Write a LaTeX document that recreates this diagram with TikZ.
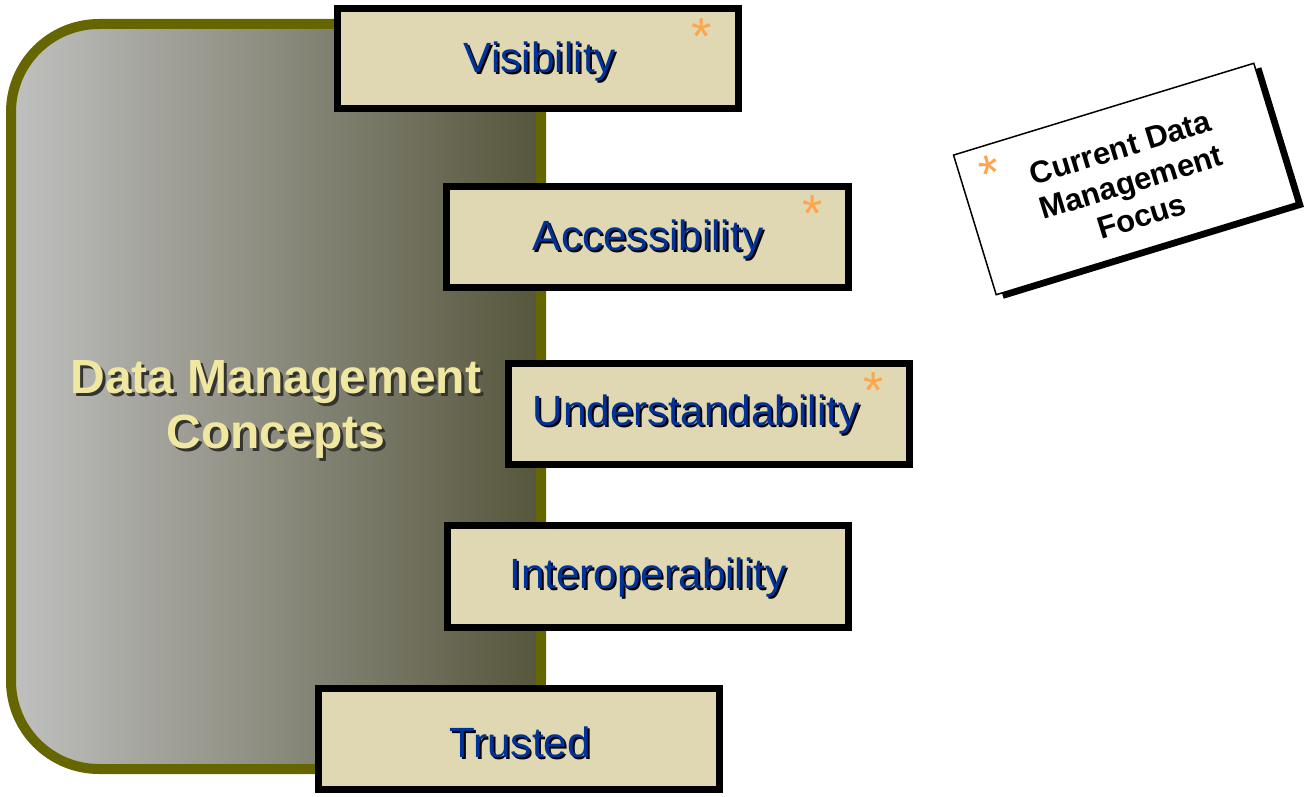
\documentclass[tikz,border=0pt]{standalone}
\usepackage{fontspec}
\setmainfont{Liberation Sans}
\definecolor{olivebd}{HTML}{666600}
\definecolor{gleft}{HTML}{C0C0C0}
\definecolor{gmid}{HTML}{A4A49C}
\definecolor{gright}{HTML}{56563C}
\definecolor{beige}{HTML}{E0D7B3}
\definecolor{navy}{HTML}{003399}
\definecolor{paleyellow}{HTML}{F0E8A0}
\definecolor{star}{HTML}{FFA64D}
\tikzset{
  conceptbox/.style={draw=black, line width=7pt, fill=beige},
  lbl/.style={font=\fontsize{42.3}{50}\selectfont, text=navy, inner sep=0pt},
  lblshadow/.style={font=\fontsize{42.3}{50}\selectfont, text=black, inner sep=0pt},
  starmark/.style={font=\fontsize{52}{60}\selectfont, text=star, inner sep=0pt, anchor=north},
  titletext/.style={font=\fontsize{48}{55}\selectfont\bfseries, align=center, inner sep=0pt},
}
\begin{document}
\begin{tikzpicture}[x=1pt,y=-1pt]
\useasboundingbox (0,0) rectangle (1304,797);
% big rounded panel
\shade[left color=gleft, middle color=gmid, right color=gright, rounded corners=88pt]
  (11,24) rectangle (541,769);
\draw[olivebd, line width=10pt, rounded corners=88pt] (11,24) rectangle (541,769);
\node[titletext, text=black!80] (titleshadow) at (279,412) {Data Management\\Concepts};
\node[titletext, text=paleyellow] (title) at (276,409) {Data Management\\Concepts};

% concept boxes
\draw[conceptbox] (337.5,8.5) rectangle (738.5,108.5);
\node[lblshadow] (visS) at (542,64) {Visibility};
\node[lbl] (vis) at (540,62) {Visibility};
\node[starmark] (visstar) at (702,19) {*};

\draw[conceptbox] (446.5,186.5) rectangle (848.5,287.5);
\node[lblshadow] (accS) at (650,242) {Accessibility};
\node[lbl] (acc) at (648,240) {Accessibility};
\node[starmark] (accstar) at (813,196) {*};

\draw[conceptbox] (508.5,363.5) rectangle (909.5,464.5);
\node[lblshadow] (undS) at (698,417) {Understandability};
\node[lbl] (und) at (696,415) {Understandability};
\node[starmark] (undstar) at (874,373) {*};

\draw[conceptbox] (447.5,525.5) rectangle (848.5,627.5);
\node[lblshadow] (intS) at (650,580) {Interoperability};
\node[lbl] (int) at (648,578) {Interoperability};

\draw[conceptbox] (318.5,688.5) rectangle (719.5,789.5);
\node[lblshadow] (truS) at (522,744) {Trusted};
\node[lbl] (tru) at (520,742) {Trusted};

% legend card
\begin{scope}[shift={(1125,179)}, rotate=17]
  \fill[black] (-151,-67) rectangle (163,79);
  \draw[fill=white, line width=1.5pt] (-157,-73) rectangle (157,73);
\end{scope}
\node[rotate=17, font=\fontsize{31}{36}\selectfont\bfseries, align=center, inner sep=0pt] (legend) at (1131,182)
  {Current Data\\Management\\Focus};
\node[rotate=17, font=\fontsize{52}{60}\selectfont, text=star, inner sep=0pt] (legstar) at (991,173) {*};
\end{tikzpicture}
\end{document}
